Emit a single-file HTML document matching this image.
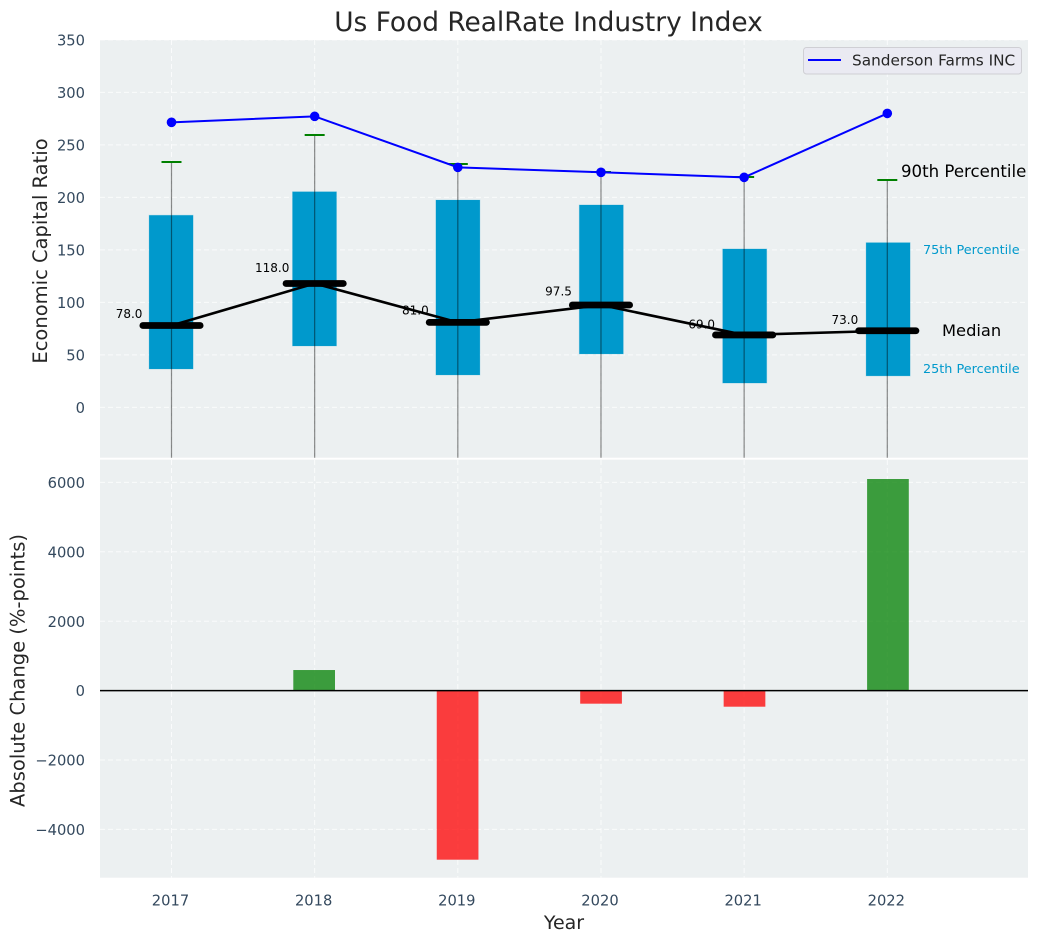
<!DOCTYPE html>
<html lang="en">
<head>
<meta charset="utf-8">
<title>Us Food RealRate Industry Index</title>
<style>
  html, body { margin: 0; padding: 0; background: #fff; }
  #chart { display: block; width: 1039px; height: 942px; font-family: "DejaVu Sans", "Liberation Sans", sans-serif; }
</style>
</head>
<body>
<svg id="chart" xmlns="http://www.w3.org/2000/svg" width="1039" height="942" viewBox="0 0 1039 942">
  <defs>
    <clipPath id="top-clip"><rect x="100" y="40" width="928" height="417.7"/></clipPath>
    <clipPath id="bottom-clip"><rect x="100" y="459.7" width="928" height="418"/></clipPath>
  </defs>
  <rect x="100" y="40" width="928" height="417.7" fill="#ecf0f1"/>
  <rect x="100" y="459.7" width="928" height="418" fill="#ecf0f1"/>
  <g id="top-grid" clip-path="url(#top-clip)"></g>
  <g id="bottom-grid" clip-path="url(#bottom-clip)"></g>
  <g id="top-marks" clip-path="url(#top-clip)"></g>
  <g id="bottom-marks" clip-path="url(#bottom-clip)"></g>
  <g id="axis-labels"></g>

  <text x="548.500" y="31" text-anchor="middle" font-size="26.4" fill="#262626">Us Food RealRate Industry Index</text>
  <text transform="translate(47 251) rotate(-90)" text-anchor="middle" font-size="19.5" fill="#262626">Economic Capital Ratio</text>
  <text transform="translate(24.500 670.500) rotate(-90)" text-anchor="middle" font-size="19.5" fill="#262626">Absolute Change (%-points)</text>
  <text x="564" y="929" text-anchor="middle" font-size="19" fill="#262626">Year</text>

  <g>
    <rect x="803.500" y="47.500" width="218" height="26.500" rx="3" fill="#eaeaf2" stroke="#cfcfd4" stroke-width="1"/>
    <line x1="808" y1="60" x2="841" y2="60" stroke="#0000ff" stroke-width="2"/>
    <text x="852" y="65.500" font-size="15.3" fill="#262626">Sanderson Farms INC</text>
  </g>

  <text x="901" y="177" font-size="16.6" fill="#000">90th Percentile</text>
  <text x="923" y="254" font-size="12.8" fill="#0099cc">75th Percentile</text>
  <text x="942" y="336" font-size="16.3" fill="#000">Median</text>
  <text x="923" y="373" font-size="12.8" fill="#0099cc">25th Percentile</text>
</svg>

<script>
const years = [2017, 2018, 2019, 2020, 2021, 2022];
const p10 = [-60, -60, -60, -60, -60, -60];
const p25 = [36.6, 58.5, 30.9, 50.9, 23.2, 30];
const medians = [78, 118, 81, 97.5, 69, 73];
const medianLabels = ["78.0", "118.0", "81.0", "97.5", "69.0", "73.0"];
const p75 = [183, 205.4, 197.5, 192.8, 150.9, 156.9];
const p90 = [233.7, 259.4, 231.8, 224.2, 219.4, 216.6];
const sanderson = [271.5, 277.2, 228.6, 223.9, 219.1, 280];
const absChange = [0, 593, -4873, -377, -464, 6098];
const topTicks = [0, 50, 100, 150, 200, 250, 300, 350];
const bottomTicks = [-4000, -2000, 0, 2000, 4000, 6000];

const SVG_NS = "http://www.w3.org/2000/svg";
const xScale = function (year) { return 171.5 + (year - 2017) * 143.16; };
const xBox = function (year) { return 171.1 + (year - 2017) * 143.4; };
const xBar = function (year) { return 170.7 + (year - 2017) * 143.45; };
const yTop = function (v) { return 407.4 - v * 1.05; };
const yBottom = function (v) { return 690.6 - v * 0.0347; };
const yearUnit = 143.16;

function make(tag, parent, attrs) {
  const el = document.createElementNS(SVG_NS, tag);
  Object.keys(attrs).forEach(function (k) { el.setAttribute(k, attrs[k]); });
  parent.appendChild(el);
  return el;
}

const topGrid = document.getElementById("top-grid");
const bottomGrid = document.getElementById("bottom-grid");
const topMarks = document.getElementById("top-marks");
const bottomMarks = document.getElementById("bottom-marks");
const axisLabels = document.getElementById("axis-labels");
const gridStyle = { stroke: "#ffffff", "stroke-width": 1, "stroke-dasharray": "5 3", "stroke-opacity": 0.75 };

topTicks.forEach(function (t) {
  const line = make("line", topGrid, Object.assign({ x1: 100, x2: 1028, y1: yTop(t), y2: yTop(t) }, gridStyle));
  
  
  const label = make("text", axisLabels, { x: 85, y: yTop(t) + 5.6, "text-anchor": "end", "font-size": 14.7, fill: "#34495e" });
  
  
  label.textContent = String(t);
});

bottomTicks.forEach(function (t) {
  const line = make("line", bottomGrid, Object.assign({ x1: 100, x2: 1028, y1: yBottom(t), y2: yBottom(t) }, gridStyle));
  
  
  const label = make("text", axisLabels, { x: 85, y: yBottom(t) + 5.6, "text-anchor": "end", "font-size": 14.7, fill: "#34495e" });
  
  
  label.textContent = String(t).replace("-", "\u2212");
});

years.forEach(function (year) {
  const x = xScale(year);
  const v1 = make("line", topGrid, Object.assign({ x1: x, x2: x, y1: 40, y2: 458 }, gridStyle));
  
  
  const v2 = make("line", bottomGrid, Object.assign({ x1: x, x2: x, y1: 460, y2: 878 }, gridStyle));
  
  
  const label = make("text", axisLabels, { x: x - 1, y: 905.3, "text-anchor": "middle", "font-size": 14.7, fill: "#34495e" });
  
  
  label.textContent = String(year);
});

/* Interquartile boxes */
years.forEach(function (year, i) {
  const x = xBox(year);
  const box = make("rect", topMarks, { x: x - 22, y: yTop(p75[i]), width: 44, height: yTop(p25[i]) - yTop(p75[i]), fill: "#0099cc", stroke: "#0099cc", "stroke-opacity": 0.2, "stroke-width": 1 });
  
  
});

/* Whiskers and 90th percentile caps */
years.forEach(function (year, i) {
  const x = xScale(year);
  const whisker = make("line", topMarks, { x1: x, x2: x, y1: yTop(p90[i]), y2: yTop(p10[i]), stroke: "#000", "stroke-opacity": 0.45, "stroke-width": 1.2 });
  
  
  const cap = make("line", topMarks, { x1: x - 10, x2: x + 10, y1: yTop(p90[i]), y2: yTop(p90[i]), stroke: "#008000", "stroke-width": 2 });
  
  
});

/* Median value labels sit beneath the median line */
years.forEach(function (year, i) {
  const label = make("text", topMarks, { x: xScale(year) - 0.3 * yearUnit + 0.5, y: yTop(medians[i] * 1.1) + 0.7, "text-anchor": "middle", "font-size": 12, fill: "#000" });
  
  
  label.textContent = medianLabels[i];
});

/* Median connecting line */
const medianPoints = years.map(function (year, i) { return xScale(year) + "," + yTop(medians[i]); }).join(" ");
const medianLine = make("polyline", topMarks, { points: medianPoints, fill: "none", stroke: "#000", "stroke-width": 2.6 });



years.forEach(function (year, i) {
  const x = xScale(year);
  const bar = make("line", topMarks, { x1: x - 0.2 * yearUnit, x2: x + 0.2 * yearUnit, y1: yTop(medians[i]), y2: yTop(medians[i]), stroke: "#000", "stroke-width": 6.8, "stroke-linecap": "round" });
  
  
});

/* Company series */
const sandersonPoints = years.map(function (year, i) { return xScale(year) + "," + yTop(sanderson[i]); }).join(" ");
const sandersonLine = make("polyline", topMarks, { points: sandersonPoints, fill: "none", stroke: "#0000ff", "stroke-width": 2 });



years.forEach(function (year, i) {
  const dot = make("circle", topMarks, { cx: xScale(year), cy: yTop(sanderson[i]), r: 4.8, fill: "#0000ff" });
  
  
});

/* Absolute change bars */
years.forEach(function (year, i) {
  const v = absChange[i];
  const y1 = yBottom(Math.max(v, 0));
  const y2 = yBottom(Math.min(v, 0));
  const bar = make("rect", bottomMarks, { x: xBar(year) - 20.85, y: y1, width: 41.7, height: y2 - y1, fill: v >= 0 ? "#008000" : "#ff0000", "fill-opacity": 0.75 });
  
  
});

const zeroLine = make("line", bottomMarks, { x1: 100, x2: 1028, y1: yBottom(0), y2: yBottom(0), stroke: "#000", "stroke-width": 1.5 });


</script>
</body>
</html>
